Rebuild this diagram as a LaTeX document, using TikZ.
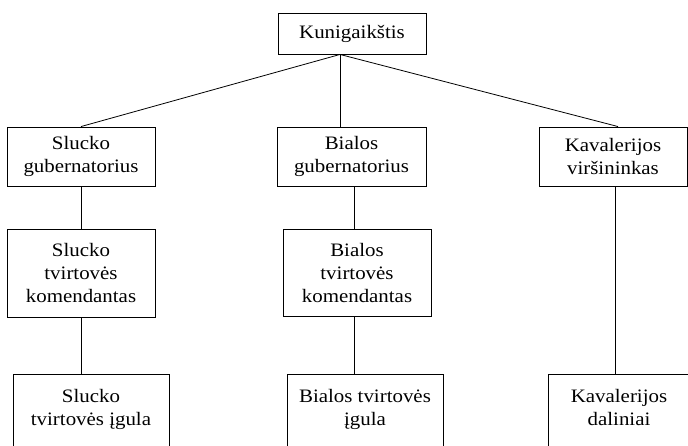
\documentclass[tikz,border=0pt]{standalone}
\usepackage{fontspec}
\setmainfont{Liberation Serif}[FakeStretch=1.1]
\usetikzlibrary{calc}
\begin{document}
\begin{tikzpicture}[x=1pt,y=-1pt,
  txt/.style={font=\fontsize{19}{23}\selectfont},
  box/.style={draw, line width=0.9pt, align=center, inner sep=0pt, txt},
  lbl/.style={anchor=north, align=center, inner sep=0pt, yshift=-15pt, txt},
  conn/.style={line width=0.8pt}]
\useasboundingbox (0,0) rectangle (688,445);
\clip (0,0) rectangle (688,445);
\node[box, minimum width=148pt, minimum height=41pt] (k) at (352,33.5) {Kunigaikštis};
\node[box, minimum width=148pt, minimum height=59pt] (sg) at (81,156.5) {Slucko\\gubernatorius};
\node[box, minimum width=149pt, minimum height=59pt] (bg) at (351.5,156.5) {Bialos\\gubernatorius};
\node[box, minimum width=148pt, minimum height=59pt] (kv) at (613,156.5) {Kavalerijos\\viršininkas};
\node[box, minimum width=148pt, minimum height=88pt] (sk) at (81,273) {Slucko\\tvirtovės\\komendantas};
\node[box, minimum width=148pt, minimum height=87pt] (bk) at (357,272.5) {Bialos\\tvirtovės\\komendantas};
\node[box, anchor=north, minimum width=156pt, minimum height=110pt,
  label={[lbl]north:Slucko\\tvirtovės įgula}] (si) at (91,374) {};
\node[box, anchor=north, minimum width=156pt, minimum height=110pt,
  label={[lbl]north:Bialos tvirtovės\\įgula}] (bi) at (365,374) {};
\node[box, anchor=north, minimum width=142pt, minimum height=110pt,
  label={[lbl]north:Kavalerijos\\daliniai}] (kd) at (619,374) {};
\coordinate (ks) at ($(k.south)+(-12,0)$);
\coordinate (bx) at (354,0);
\coordinate (kx) at (615,0);
\draw[conn] (ks) -- (sg.north);
\draw[conn] (ks) -- (bg.north -| ks);
\draw[conn] (ks) -- ($(kv.north)+(5,0)$);
\draw[conn] (sg.south) -- (sk.north);
\draw[conn] (sk.south) -- (si.north -| sk.south);
\draw[conn] (bg.south -| bx) -- (bk.north -| bx);
\draw[conn] (bk.south -| bx) -- (bi.north -| bx);
\draw[conn] (kv.south -| kx) -- (kd.north -| kx);
\end{tikzpicture}
\end{document}
